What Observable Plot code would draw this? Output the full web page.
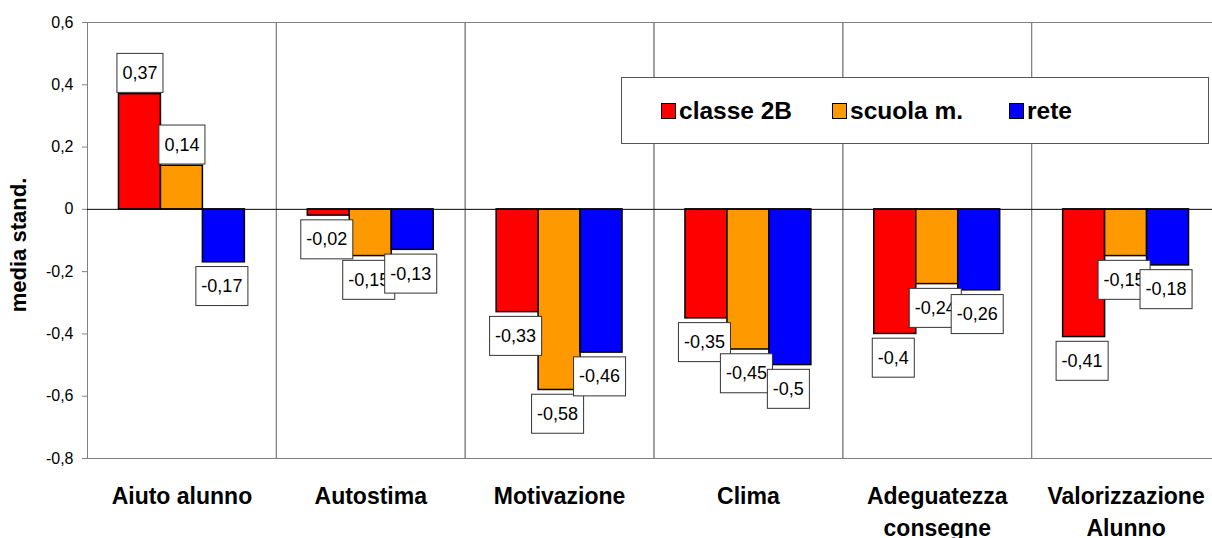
<!DOCTYPE html>
<html>
<head>
<meta charset="utf-8">
<script src="https://cdn.jsdelivr.net/npm/d3@7"></script>
<script src="https://cdn.jsdelivr.net/npm/@observablehq/plot@0.6"></script>
<style>
  body { margin: 0; background: #fff; overflow: hidden; font-family: "Liberation Sans", Arial, sans-serif; }
  #wrap { position: relative; width: 1212px; height: 538px; overflow: hidden; }
  #wrap svg { max-width: none !important; }
  #legend { position: absolute; left: 621px; top: 77px; width: 588px; height: 67px; border: 1px solid #555; background: #fff; box-sizing: border-box; }
  .item { position: absolute; top: 0; height: 65px; display: flex; align-items: center; font-weight: bold; font-size: 24.5px; color: #000; }
  .sw { width: 13px; height: 14px; border: 1px solid #000; margin-right: 3px; }
</style>
</head>
<body>
<div id="wrap"></div>
<script>
const categories = ["Aiuto alunno", "Autostima", "Motivazione", "Clima", "Adeguatezza\nconsegne", "Valorizzazione\nAlunno"];
const series = ["classe 2B", "scuola m.", "rete"];
const colors = ["#ff0000", "#ff9900", "#0000ff"];
const classe2B = [0.37, -0.02, -0.33, -0.35, -0.4, -0.41];
const scuolaM = [0.14, -0.15, -0.58, -0.45, -0.24, -0.15];
const rete = [-0.17, -0.13, -0.46, -0.5, -0.26, -0.18];
const yTicks = [-0.8, -0.6, -0.4, -0.2, 0, 0.2, 0.4, 0.6];

const seriesValues = [classe2B, scuolaM, rete];
const data = [];
series.forEach((s, si) => {
  categories.forEach((c, ci) => {
    data.push({cat: c, series: s, value: seriesValues[si][ci]});
  });
});
const fmt = d => String(d).replace(".", ",");

const chart = Plot.plot({
  width: 1220,
  height: 538,
  marginLeft: 87,
  marginRight: 0,
  marginTop: 22,
  marginBottom: 80,
  style: {fontFamily: "'Liberation Sans', Arial, sans-serif", background: "#fff", maxWidth: "none"},
  fx: {domain: categories, padding: 0, round: false, label: null},
  x: {domain: series, paddingInner: 0, paddingOuter: 0.75, round: false, axis: null},
  y: {domain: [-0.8, 0.6], label: null},
  color: {domain: series, range: colors},
  marks: [
    Plot.frame({stroke: "#808080", strokeWidth: 1}),
    Plot.axisY({ticks: yTicks, tickFormat: fmt, tickSize: 5, tickPadding: 9, fontSize: 16, label: null, stroke: "#808080"}),
    Plot.axisFx({anchor: "bottom", tickSize: 0, tickPadding: 22, fontSize: 23, fontWeight: "bold", lineHeight: 1.41, label: null}),
    Plot.barY(data, {fx: "cat", x: "series", y: "value", fill: "series", stroke: "#000", strokeWidth: 1.5}),
    Plot.ruleY([0], {stroke: "#000", strokeWidth: 1}),
    Plot.text(data.filter(d => d.value >= 0), {fx: "cat", x: "series", y: "value", text: d => fmt(d.value), dy: -21, fontSize: 18, fill: "#000"}),
    Plot.text(data.filter(d => d.value < 0), {fx: "cat", x: "series", y: "value", text: d => fmt(d.value), dy: 24, dx: -2, fontSize: 18, fill: "#000"})
  ]
});
chart.style.maxWidth = "none";

const wrap = document.getElementById("wrap");
wrap.append(chart);

// y-axis title
const svgNS = "http://www.w3.org/2000/svg";
const title = document.createElementNS(svgNS, "text");
title.setAttribute("transform", "translate(20,245) rotate(-90)");
title.setAttribute("text-anchor", "middle");
title.setAttribute("dominant-baseline", "middle");
title.setAttribute("font-size", "22");
title.setAttribute("font-weight", "bold");
title.setAttribute("fill", "#000");
title.textContent = "media stand.";
chart.append(title);

// label boxes behind each value label (value label text marks only)
chart.querySelectorAll('g[aria-label="text"] text').forEach(t => {
  const b = t.getBBox();
  const r = document.createElementNS(svgNS, "rect");
  const cy = b.y + b.height / 2;
  r.setAttribute("x", b.x - 5.5);
  r.setAttribute("y", cy - 19.5);
  r.setAttribute("width", b.width + 11);
  r.setAttribute("height", 39);
  r.setAttribute("fill", "#fff");
  r.setAttribute("stroke", "#333");
  r.setAttribute("stroke-width", "1");
  const tr = t.getAttribute("transform");
  if (tr) r.setAttribute("transform", tr);
  t.parentNode.insertBefore(r, t);
});

// legend
const legend = document.createElement("div");
legend.id = "legend";
const lefts = [39, 210, 387];
series.forEach((s, i) => {
  const it = document.createElement("div");
  it.className = "item";
  it.style.left = lefts[i] + "px";
  const sw = document.createElement("div");
  sw.className = "sw";
  sw.style.background = colors[i];
  it.append(sw, document.createTextNode(s));
  legend.append(it);
});
wrap.append(legend);
</script>
</body>
</html>
